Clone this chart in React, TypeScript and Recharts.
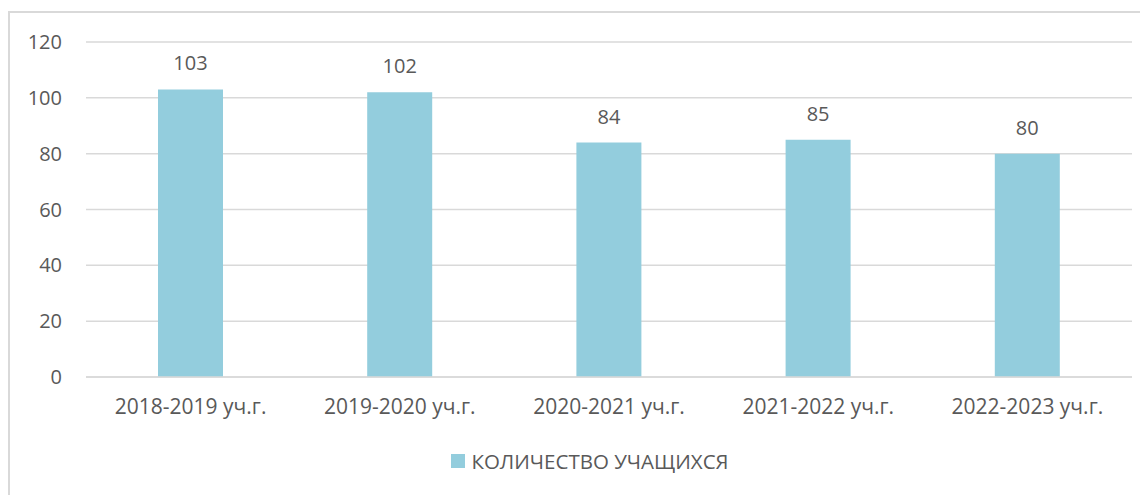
import React from 'react';
import { BarChart, Bar, XAxis, YAxis, CartesianGrid, Legend, LabelList } from 'recharts';

const YEARS = ['2018-2019 уч.г.', '2019-2020 уч.г.', '2020-2021 уч.г.', '2021-2022 уч.г.', '2022-2023 уч.г.'];
const STUDENTS = [103, 102, 84, 85, 80];
const Y_TICKS = [0, 20, 40, 60, 80, 100, 120];
const SERIES_NAME = 'КОЛИЧЕСТВО УЧАЩИХСЯ';

const BAR_COLOR = '#93CDDD';
const TEXT_COLOR = '#595959';
const GRID_COLOR = '#D9D9D9';
const FONT = '"Open Sans", sans-serif';

const data = YEARS.map((year, i) => ({ year, value: STUDENTS[i] }));

const LegendContent = () => (
  <div
    style={{
      display: 'flex',
      justifyContent: 'center',
      alignItems: 'center',
      paddingLeft: 38,
      fontFamily: FONT,
      fontSize: 20.5,
      color: TEXT_COLOR,
    }}
  >
    <span style={{ width: 14, height: 14, background: BAR_COLOR, marginRight: 6, display: 'inline-block' }} />
    <span>{SERIES_NAME}</span>
  </div>
);

export default function App() {
  return (
    <div
      style={{
        marginTop: 3,
        width: 1140,
        height: 484,
        borderLeft: `2px solid ${GRID_COLOR}`,
        borderTop: `2px solid ${GRID_COLOR}`,
        boxSizing: 'border-box',
        background: '#fff',
      }}
    >
      <BarChart
        width={1138}
        height={482}
        data={data}
        margin={{ top: 29, right: 16, bottom: 0, left: 0 }}
      >
        <CartesianGrid vertical={false} stroke={GRID_COLOR} strokeWidth={1.5} />
        <XAxis
          dataKey="year"
          axisLine={{ stroke: GRID_COLOR, strokeWidth: 1.5 }}
          tickLine={false}
          tickSize={0}
          tickMargin={22}
          height={90}
          tick={{ fill: TEXT_COLOR, fontSize: 21, fontFamily: FONT }}
        />
        <YAxis
          domain={[0, 120]}
          ticks={Y_TICKS}
          axisLine={false}
          tickLine={false}
          tickSize={0}
          tickMargin={24}
          width={76}
          interval={0}
          tick={{ fill: TEXT_COLOR, fontSize: 20, fontFamily: FONT }}
        />
        <Legend verticalAlign="bottom" content={<LegendContent />} wrapperStyle={{ bottom: 20 }} />
        <Bar dataKey="value" name={SERIES_NAME} fill={BAR_COLOR} barSize={65} isAnimationActive={false}>
          <LabelList
            dataKey="value"
            position="top"
            offset={19}
            style={{ fill: TEXT_COLOR, fontSize: 20, fontFamily: FONT }}
          />
        </Bar>
      </BarChart>
    </div>
  );
}
